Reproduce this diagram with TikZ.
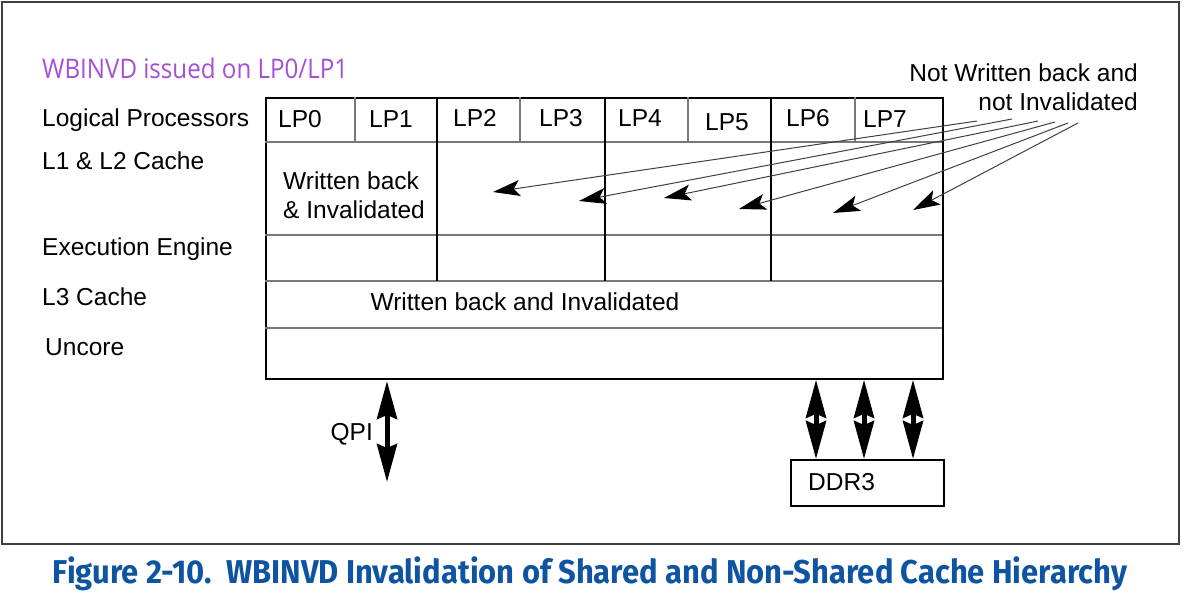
\documentclass[tikz,border=0pt]{standalone}
\usepackage{fontspec}
\usepackage{graphicx}
\setmainfont{Liberation Sans}
\newfontfamily\clearfont{Open Sans}
\newfontfamily\capfont{Fira Sans}
\usetikzlibrary{arrows.meta}
\definecolor{capblue}{RGB}{14,84,161}
\definecolor{wbpurple}{RGB}{165,79,216}
\definecolor{rowgray}{RGB}{120,120,120}
\begin{document}
\begin{tikzpicture}[x=1pt,y=-1pt,
  lbl/.style={inner sep=0pt,font=\fontsize{24.5}{28.5}\selectfont},
  rowline/.style={draw=rowgray,line width=1.6pt},
  thinsep/.style={draw=rowgray,line width=1.3pt},
  colsep/.style={draw=black,line width=1.3pt},
  ptr/.style={draw=black!75,line width=1pt,-{Stealth[length=27pt,width=16pt,inset=6pt,color=black]}},
  bidir/.style={line width=5pt,{Stealth[length=38pt,width=20pt,inset=4pt]}-{Stealth[length=38pt,width=20pt,inset=4pt]}},
  framebox/.style={draw=black!75,line width=2.5pt},
  chipbox/.style={draw=black,line width=1.8pt,inner sep=0pt,anchor=north west}]
\useasboundingbox (0,0) rectangle (1186,596);
% outer frame
\draw[framebox] (2,2) rectangle (1179,544);
% title text
\node[inner sep=0pt,anchor=west,text=wbpurple] (issued) at (42,68)
  {\resizebox{306pt}{\height}{\clearfont\fontsize{27}{30}\selectfont WBINVD issued on LP0/LP1}};
% row labels
\node[lbl,anchor=west] (rlp) at (42,120) {Logical Processors};
\node[lbl,anchor=west] (rl12) at (42,161) {L1 \& L2 Cache};
\node[lbl,anchor=west] (rexe) at (42,249) {Execution Engine};
\node[lbl,anchor=west] (rl3) at (42,297) {L3 Cache};
\node[lbl,anchor=west] (runc) at (45,347) {Uncore};
% main chip box
\node[chipbox,minimum width=677pt,minimum height=281pt] (chip) at (265,97) {};
% horizontal rows
\draw[rowline] (265,142) -- (942,142);
\draw[rowline] (265,235) -- (942,235);
\draw[rowline] (265,281) -- (942,281);
\draw[rowline] (265,328) -- (942,328);
% LP separators
\draw[thinsep] (355,97) -- (355,142);
\draw[thinsep] (520,97) -- (520,142);
\draw[thinsep] (688,97) -- (688,142);
\draw[thinsep] (855,97) -- (855,142);
% core separators
\draw[colsep] (437,97) -- (437,281);
\draw[colsep] (605,97) -- (605,281);
\draw[colsep] (771,97) -- (771,281);
% LP labels
\node[lbl] (lp0) at (300,119) {LP0};
\node[lbl] (lp1) at (391,119) {LP1};
\node[lbl] (lp2) at (475,118) {LP2};
\node[lbl] (lp3) at (561,118) {LP3};
\node[lbl] (lp4) at (640,118) {LP4};
\node[lbl] (lp5) at (727,122) {LP5};
\node[lbl] (lp6) at (808,118) {LP6};
\node[lbl] (lp7) at (885,119) {LP7};
% cell texts
\node[lbl,anchor=west,align=left] (wbi) at (283,195) {Written back\\\& Invalidated};
\node[lbl] (l3t) at (525,302) {Written back and Invalidated};
\node[lbl,anchor=east,align=right] (nwb) at (1138,87) {Not Written back and\\not Invalidated};
% thin arrows
\coordinate (s1) at (977,121); \coordinate (t1) at (493,192);
\coordinate (s2) at (1012,119); \coordinate (t2) at (579,201);
\coordinate (s3) at (1038,121); \coordinate (t3) at (664,198);
\coordinate (s4) at (1055,122); \coordinate (t4) at (739,209);
\coordinate (s5) at (1068,123); \coordinate (t5) at (833,213);
\coordinate (s6) at (1078,123); \coordinate (t6) at (913,210);
\draw[ptr] (s1) -- (t1);
\draw[ptr] (s2) -- (t2);
\draw[ptr] (s3) -- (t3);
\draw[ptr] (s4) -- (t4);
\draw[ptr] (s5) -- (t5);
\draw[ptr] (s6) -- (t6);
% QPI
\coordinate (qtop) at (387,381);
\coordinate (qbot) at (387,482);
\draw[bidir] (qtop) -- (qbot);
\node[lbl,anchor=east] (qpi) at (373,434) {QPI};
% DDR3
\node[draw=black,line width=1.5pt,minimum width=153pt,minimum height=46pt,inner sep=0pt,anchor=north west] (ddr) at (790,459) {};
\node[lbl,anchor=west] (ddrt) at (808,482) {DDR3};
\coordinate (dx1) at (816,0);
\coordinate (dx2) at (864,0);
\coordinate (dx3) at (913,0);
\draw[bidir] (chip.south -| dx1) -- (ddr.north -| dx1);
\draw[bidir] (chip.south -| dx2) -- (ddr.north -| dx2);
\draw[bidir] (chip.south -| dx3) -- (ddr.north -| dx3);
% caption
\node[inner sep=0pt,text=capblue] (cap) at (590,574)
  {\resizebox{1074pt}{\height}{\capfont\bfseries\fontsize{33}{36}\selectfont Figure 2-10.\ \ WBINVD Invalidation of Shared and Non-Shared Cache Hierarchy}};
\end{tikzpicture}
\end{document}
